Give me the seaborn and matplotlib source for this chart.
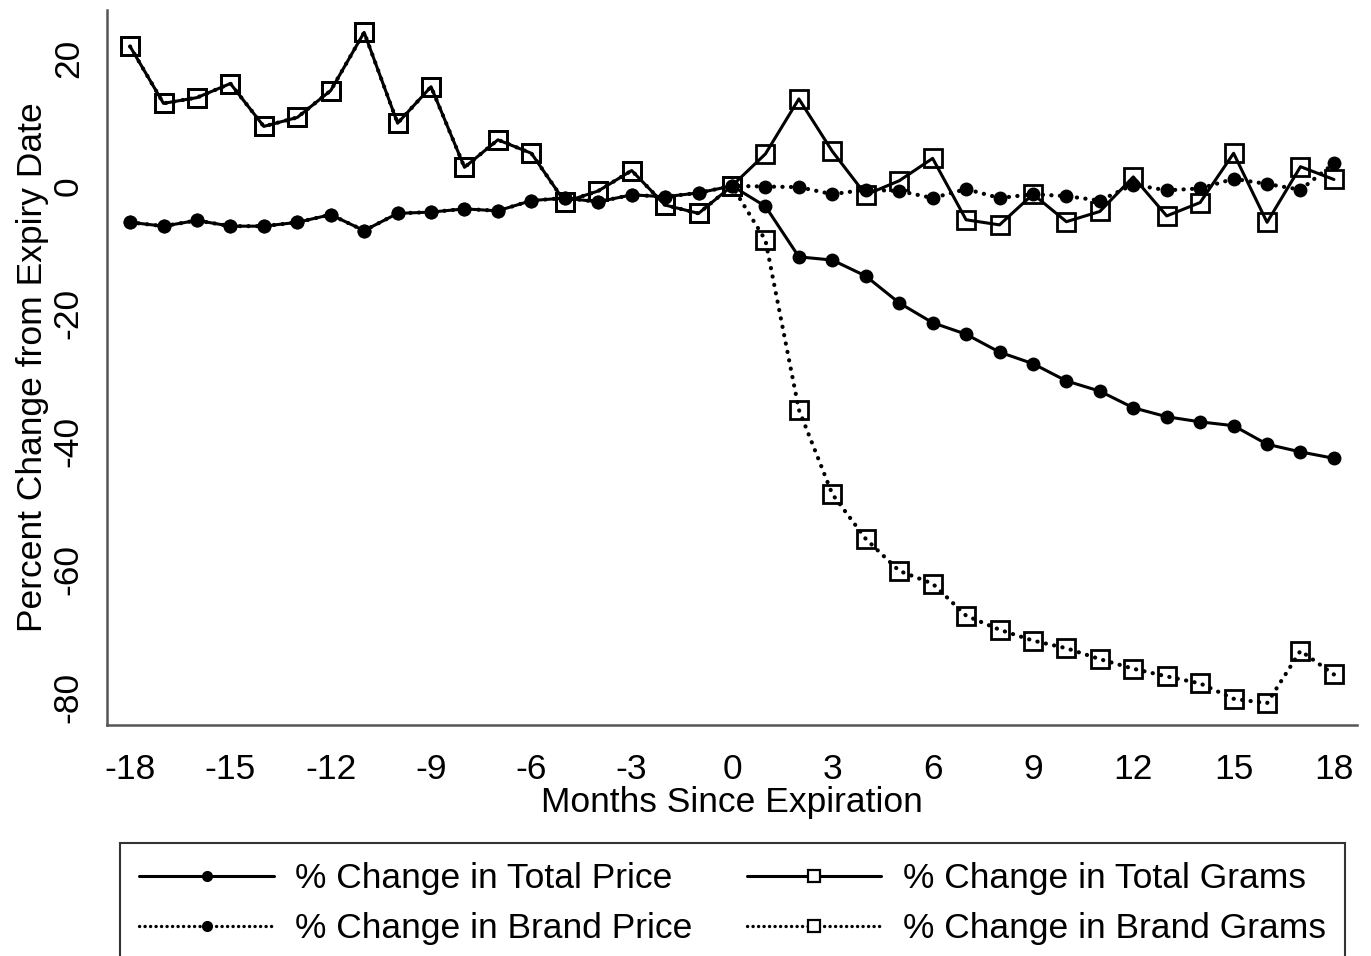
import numpy as np
import pandas as pd
import matplotlib
matplotlib.use("Agg")
import matplotlib.pyplot as plt
import seaborn as sns
from matplotlib.lines import Line2D

months = list(range(-18, 19))

total_price = [-5.7, -6.3, -5.4, -6.3, -6.3, -5.7, -4.5, -7.0, -4.3, -4.1, -3.6, -3.9,
               -2.3, -1.9, -2.5, -1.4, -1.7, -1.1, 0.0,
               -3.2, -11.1, -11.6, -14.1, -18.3, -21.4, -23.2, -26.0, -27.8, -30.5,
               -32.1, -34.7, -36.1, -36.9, -37.5, -40.4, -41.6, -42.6]

total_grams = [21.8, 12.9, 13.8, 16.0, 9.3, 10.7, 14.9, 24.0, 9.8, 15.5, 2.9, 7.2,
               5.1, -2.5, -0.8, 2.4, -3.0, -4.3, 0.0,
               5.0, 13.6, 5.4, -1.4, 0.8, 4.3, -5.3, -6.1, -1.3, -5.6,
               -4.0, 1.4, -4.7, -2.6, 5.1, -5.7, 3.0, 1.0]

brand_price = [-5.7, -6.3, -5.4, -6.3, -6.3, -5.7, -4.5, -7.0, -4.3, -4.1, -3.6, -3.9,
               -2.3, -1.9, -2.5, -1.4, -1.7, -1.1, 0.0,
               -0.1, -0.2, -1.3, -0.6, -0.8, -1.9, -0.5, -1.9, -1.3, -1.6,
               -2.3, 0.2, -0.7, -0.4, 1.1, 0.3, -0.6, 3.5]

brand_grams = [21.8, 12.9, 13.8, 16.0, 9.3, 10.7, 14.9, 24.0, 9.8, 15.5, 2.9, 7.2,
               5.1, -2.5, -0.8, 2.4, -3.0, -4.3, 0.0,
               -8.5, -35.0, -48.2, -55.2, -60.2, -62.2, -67.2, -69.4, -71.1, -72.3,
               -74.0, -75.5, -76.7, -77.8, -80.2, -80.9, -72.7, -76.4]

labels = ["% Change in Total Price", "% Change in Brand Price",
          "% Change in Total Grams", "% Change in Brand Grams"]

x_ticks = list(range(-18, 19, 3))
y_ticks = [20, 0, -20, -40, -60, -80]

sns.set_style("white")
plt.rcParams['font.family'] = ['Liberation Sans', 'DejaVu Sans']
plt.rcParams['text.color'] = 'black'
plt.rcParams['axes.labelcolor'] = 'black'
FS = 25.5

fig = plt.figure(figsize=(13.71, 9.56), dpi=100)
ax = fig.add_axes([107/1371, 1-725/956, (1357-107)/1371, (725-10)/956])

spine_col = "#555555"
lw = 2.2
dot_ls = (0, (0.05, 2.0))

sns.lineplot(x=months, y=total_price, ax=ax, color="black", linewidth=lw,
             linestyle="-", marker="o", markersize=10, markeredgewidth=0,
             markerfacecolor="black", zorder=3)
sns.lineplot(x=months, y=brand_price, ax=ax, color="black", linewidth=3.0,
             linestyle=dot_ls, marker="o", markersize=10, markeredgewidth=0,
             markerfacecolor="black", zorder=3)
sns.lineplot(x=months, y=total_grams, ax=ax, color="black", linewidth=lw,
             linestyle="-", marker="s", markersize=13.5, markeredgewidth=2.0,
             markerfacecolor="none", markeredgecolor="black", zorder=3)
sns.lineplot(x=months, y=brand_grams, ax=ax, color="black", linewidth=3.0,
             linestyle=dot_ls, marker="s", markersize=13.5, markeredgewidth=2.0,
             markerfacecolor="none", markeredgecolor="black", zorder=3)

for ln in ax.get_lines():
    ln.set_dash_capstyle("round")

ax.set_xlim(-18.69, 18.69)
ax.set_ylim(-84.3, 27.5)
ax.set_xticks(x_ticks)
ax.set_xticklabels([str(t) for t in x_ticks])
ax.set_yticks(y_ticks)
ax.set_yticklabels([str(t) for t in y_ticks], rotation=90, va="center")

for s in ["top", "right"]:
    ax.spines[s].set_visible(False)
for s in ["left", "bottom"]:
    ax.spines[s].set_color(spine_col)
    ax.spines[s].set_linewidth(1.8)

ax.tick_params(axis="both", direction="out", length=10, width=1.6, color=spine_col,
               labelsize=FS, labelcolor="black")
ax.tick_params(axis="y", pad=6)
ax.tick_params(axis="x", pad=10)
ax.set_xlabel("Months Since Expiration", fontsize=FS, labelpad=0, color="black")
ax.set_ylabel("Percent Change from Expiry Date", fontsize=FS, labelpad=2, color="black")
ax.grid(False)

handles = [
    Line2D([], [], color="black", linewidth=lw, linestyle="-", marker="o", markersize=8,
           markeredgewidth=0),
    Line2D([], [], color="black", linewidth=2.4, linestyle=(0, (0.05, 1.6)), marker="o",
           markersize=8, markeredgewidth=0, dash_capstyle="round"),
    Line2D([], [], color="black", linewidth=lw, linestyle="-", marker="s", markersize=9,
           markerfacecolor="white", markeredgewidth=1.6),
    Line2D([], [], color="black", linewidth=2.4, linestyle=(0, (0.05, 1.6)), marker="s",
           markersize=9, markerfacecolor="white", markeredgewidth=1.6,
           dash_capstyle="round"),
]
leg = fig.legend(handles, labels, ncol=2, loc="upper left",
                 bbox_to_anchor=(120/1371, 1-843/956, (1345-120)/1371, 0.0),
                 mode="expand", fontsize=FS, frameon=True, fancybox=False,
                 edgecolor="black", handlelength=3.8, handletextpad=0.6,
                 labelspacing=0.48, borderpad=0.55, borderaxespad=0.0,
                 columnspacing=1.5)
leg.get_frame().set_linewidth(1.5)
for t in leg.get_texts():
    t.set_color("black")

fig.savefig("out.png", dpi=100, facecolor="white")
